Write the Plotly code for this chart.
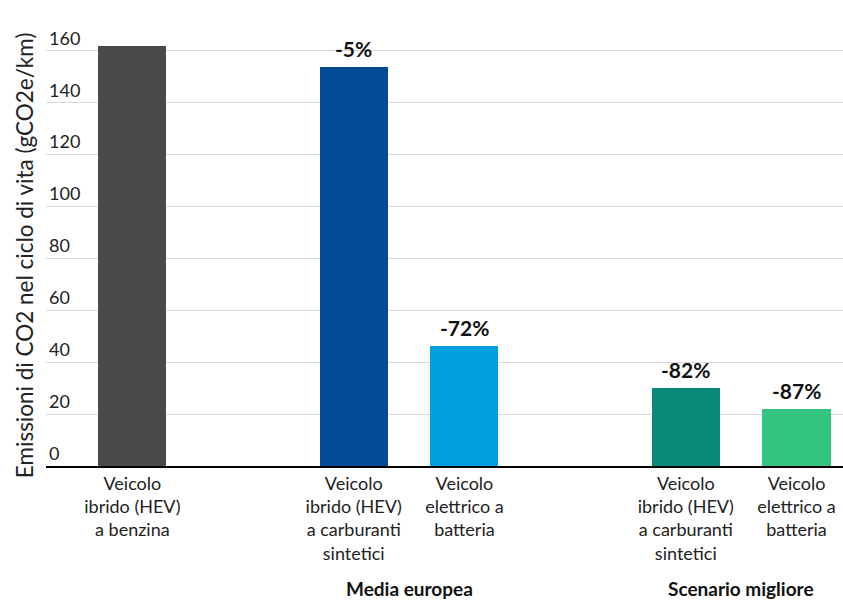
import plotly.graph_objects as go

categories = [
    "Veicolo<br>ibrido (HEV)<br>a benzina",
    "Veicolo<br>ibrido (HEV)<br>a carburanti<br>sintetici",
    "Veicolo<br>elettrico a<br>batteria",
    "Veicolo<br>ibrido (HEV)<br>a carburanti<br>sintetici",
    "Veicolo<br>elettrico a<br>batteria",
]
positions = [0, 2, 3, 5, 6]
values = [161.8, 153.9, 46.4, 29.9, 21.9]
labels = ["", "-5%", "-72%", "-82%", "-87%"]
colors = ["#4a4a4a", "#004b93", "#009fe0", "#0a8a7a", "#33c480"]
groups = ["Media europea", "Scenario migliore"]
group_pos = [2.5, 5.5]
y_ticks = [0, 20, 40, 60, 80, 100, 120, 140, 160]

FONT = "Lato"

fig = go.Figure()
fig.add_trace(go.Bar(
    x=positions, y=values, marker=dict(color=colors, line=dict(width=0)),
    width=0.615, hoverinfo="skip",
))

for xp, v, t in zip(positions, values, labels):
    if t:
        fig.add_annotation(x=xp, y=v, text="<b>%s</b>" % t, showarrow=False,
                           yanchor="bottom", yshift=4,
                           font=dict(family=FONT, size=21, color="#111111"))

for g, gp in zip(groups, group_pos):
    fig.add_annotation(x=gp, xref="x", y=0, yref="paper", yanchor="middle",
                       yshift=-122, text="<b>%s</b>" % g, showarrow=False,
                       font=dict(family=FONT, size=19, color="#111111"))

fig.add_annotation(x=0, xref="paper", xshift=-22, y=0.478, yref="paper",
                   text="Emissioni di CO2 nel ciclo di vita (gCO2e/km)",
                   textangle=-90, showarrow=False, xanchor="center", yanchor="middle",
                   font=dict(family=FONT, size=22.5, color="#222222"))

fig.update_layout(
    width=843, height=600,
    margin=dict(l=46, r=0, t=25, b=134, autoexpand=False),
    plot_bgcolor="white", paper_bgcolor="white",
    showlegend=False, bargap=0,
    font=dict(family=FONT, color="#222222"),
    xaxis=dict(
        range=[-0.78, 6.42], tickmode="array", tickvals=positions, ticktext=categories,
        showline=True, linecolor="black", linewidth=2, showgrid=False, ticks="",
        tickfont=dict(family=FONT, size=18, color="#222222"), zeroline=False,
        fixedrange=True, automargin=False,
    ),
    yaxis=dict(
        range=[0, 170], tickmode="array", tickvals=y_ticks,
        showgrid=True, gridcolor="#d9d9d9", gridwidth=1, zeroline=False,
        ticklabelposition="inside top", ticks="",
        tickfont=dict(family=FONT, size=18, color="#222222"),
        showline=False, fixedrange=True, automargin=False,
    ),
)

fig.write_html("out.html", config={"displayModeBar": False},
               post_script="document.body.style.margin='0';document.body.style.padding='0';document.body.style.overflow='hidden';")
